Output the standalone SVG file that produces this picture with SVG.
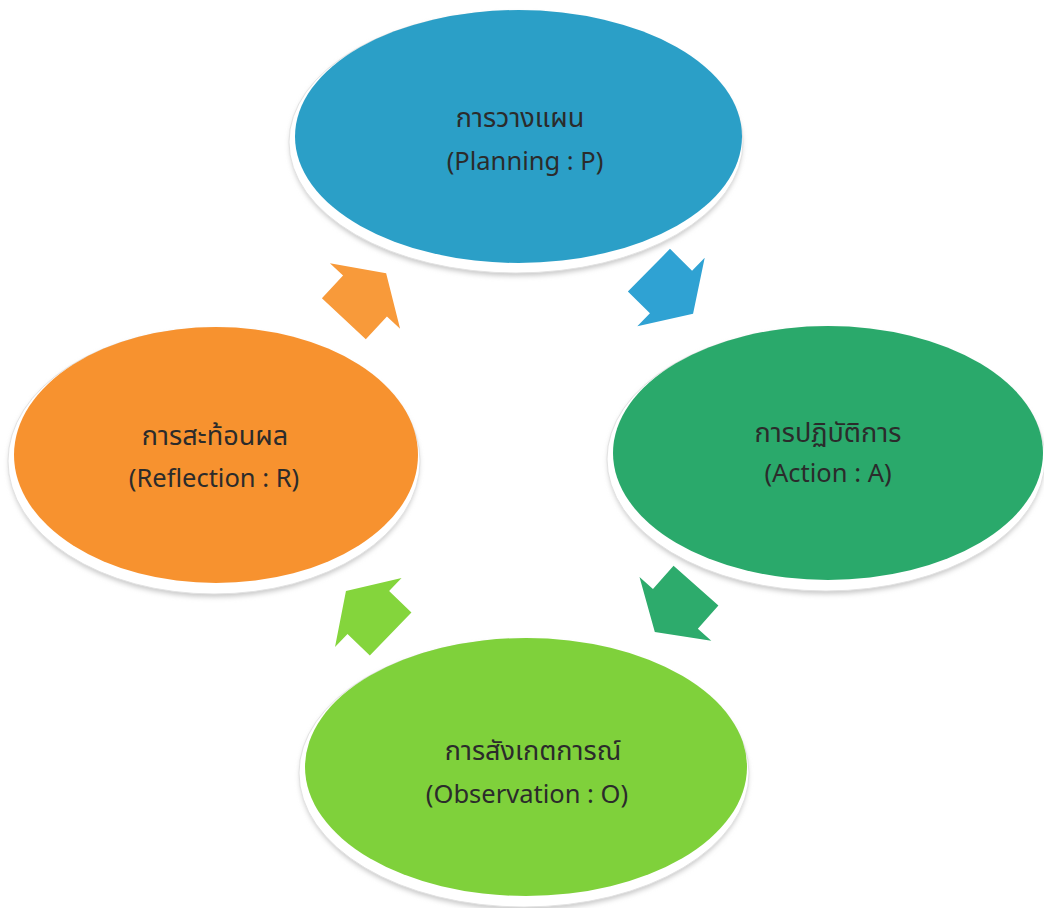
<svg xmlns="http://www.w3.org/2000/svg" width="1044" height="908" viewBox="0 0 1044 908">
  <defs>
    <filter id="soft" x="-10%" y="-10%" width="120%" height="130%">
      <feGaussianBlur stdDeviation="2.5"/>
    </filter>
    <polygon id="arrowShape" points="31,0 0,-48 0,-30 -31,-30 -31,30 0,30 0,48"/>
  </defs>
  <style>
    .shadow { fill: #c9c9c9; filter: url(#soft); }
    .rim { fill: #ffffff; stroke: #e2e2e2; stroke-width: 1; }
    .lbl { font-family: "Noto Sans", "Noto Sans Thai", "Tahoma", "DejaVu Sans", sans-serif; fill: #2b2b2b; text-anchor: middle; }
    .th { font-size: 27px; }
    .en { font-size: 25.5px; }
  </style>
  <rect width="1044" height="908" fill="#ffffff"/>

  <g id="node-planning">
    <ellipse class="shadow" cx="516" cy="145" rx="226" ry="131"/>
    <ellipse class="rim" cx="516" cy="142" rx="227" ry="131"/>
    <ellipse cx="518.5" cy="136.5" rx="223.5" ry="126.5" fill="#2b9fc7"/>
    <text class="lbl th" x="520" y="127">การวางแผน</text>
    <text class="lbl en" x="525" y="170">(Planning : P)</text>
  </g>

  <g id="node-action">
    <ellipse class="shadow" cx="826" cy="462" rx="218" ry="132"/>
    <ellipse class="rim" cx="826" cy="459" rx="219" ry="132"/>
    <ellipse cx="828" cy="453" rx="215" ry="127" fill="#2aa96b"/>
    <text class="lbl th" x="828" y="442">การปฏิบัติการ</text>
    <text class="lbl en" x="828" y="482">(Action : A)</text>
  </g>

  <g id="node-observation">
    <ellipse class="shadow" cx="524" cy="776" rx="224" ry="134"/>
    <ellipse class="rim" cx="524" cy="773" rx="225" ry="134"/>
    <ellipse cx="526" cy="767" rx="221" ry="129" fill="#7fd13b"/>
    <text class="lbl th" x="533" y="760">การสังเกตการณ์</text>
    <text class="lbl en" x="527" y="803">(Observation : O)</text>
  </g>

  <g id="node-reflection">
    <ellipse class="shadow" cx="214" cy="464" rx="205" ry="133"/>
    <ellipse class="rim" cx="214" cy="461" rx="206" ry="133"/>
    <ellipse cx="216" cy="455" rx="202" ry="128" fill="#f7922f"/>
    <text class="lbl th" x="215" y="445">การสะท้อนผล</text>
    <text class="lbl en" x="214" y="487">(Reflection : R)</text>
  </g>

  <g id="connectors">
    <use href="#arrowShape" fill="#2fa2d3" transform="translate(671 292) rotate(44.6)"/>
    <use href="#arrowShape" fill="#2dab6c" transform="translate(675.4 608.8) rotate(131.6)"/>
    <use href="#arrowShape" fill="#84d53c" transform="translate(368.3 612.5) rotate(223.9)"/>
    <use href="#arrowShape" fill="#f89a3a" transform="translate(365 296) rotate(-47)"/>
  </g>
</svg>
